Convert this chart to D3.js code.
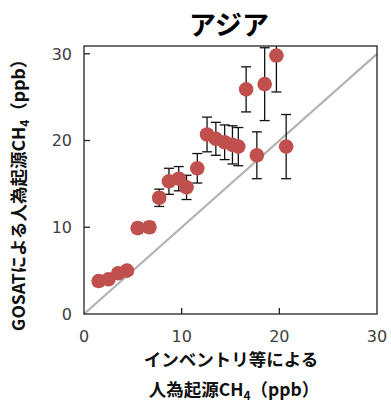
<!DOCTYPE html>
<html>
<head>
<meta charset="utf-8">
<script src="https://cdn.jsdelivr.net/npm/d3@7"></script>
<style>
  body { margin: 0; background: #fff; }
  svg { display: block; }
</style>
</head>
<body>
<div id="chart"></div>
<script>
// inventory (x), GOSAT (y), error (half width) in ppb
var inventory = [1.5, 2.5, 3.5, 4.4, 5.5, 6.7, 7.7, 8.7, 9.7, 10.5, 11.6, 12.6, 13.5, 14.4, 15.2, 15.8, 16.6, 17.7, 18.5, 19.7, 20.7];
var gosat =     [3.8, 4.0, 4.7, 5.0, 9.9, 10.0, 13.4, 15.3, 15.6, 14.6, 16.8, 20.7, 20.2, 19.8, 19.5, 19.3, 25.9, 18.3, 26.5, 29.8, 19.3];
var gosatErr =  [0.3, 0.3, 0.3, 0.3, 0.6, 0.6, 1.0, 1.5, 1.4, 1.4, 1.7, 2.0, 1.9, 2.0, 2.2, 2.2, 2.6, 2.7, 4.2, 4.2, 3.7];
var xTicks = [0, 10, 20, 30];
var yTicks = [0, 10, 20, 30];

var width = 391, height = 410;
var margin = {top: 46, right: 14, bottom: 96, left: 84};
var w = width - margin.left - margin.right;
var h = height - margin.top - margin.bottom;

var svg = d3.select("#chart").append("svg")
  .attr("width", width)
  .attr("height", height);

var x = d3.scaleLinear().domain([0, 30]).range([0, 293]);
var y = d3.scaleLinear().domain([0, 30.9]).range([h, 0]);

var g = svg.append("g").attr("transform", "translate(" + margin.left + "," + margin.top + ")");

g.append("clipPath").attr("id", "plotclip")
  .append("rect").attr("width", w).attr("height", h);

// 1:1 line
g.append("line")
  .attr("x1", x(0)).attr("y1", y(0))
  .attr("x2", x(30)).attr("y2", y(30))
  .attr("stroke", "#b3b3b3")
  .attr("stroke-width", 2.2);

// frame
g.append("rect")
  .attr("width", w).attr("height", h)
  .attr("fill", "none")
  .attr("stroke", "#222")
  .attr("stroke-width", 1.3);

// inward ticks
g.selectAll(".ytick").data(yTicks.slice(1)).enter().append("line")
  .attr("x1", 0).attr("x2", 6)
  .attr("y1", function(d) { return y(d); })
  .attr("y2", function(d) { return y(d); })
  .attr("stroke", "#222").attr("stroke-width", 1.3);

g.selectAll(".xtick").data(xTicks.slice(1, -1)).enter().append("line")
  .attr("y1", h).attr("y2", h - 6)
  .attr("x1", function(d) { return x(d); })
  .attr("x2", function(d) { return x(d); })
  .attr("stroke", "#222").attr("stroke-width", 1.3);

// tick labels
g.selectAll(".ylab").data(yTicks).enter().append("text")
  .attr("x", -12)
  .attr("y", function(d) { return y(d); })
  .attr("dy", "0.36em")
  .attr("text-anchor", "end")
  .attr("font-family", "DejaVu Sans, sans-serif")
  .attr("font-size", "16px")
  .attr("fill", "#404040")
  .text(function(d) { return d; });

g.selectAll(".xlab").data(xTicks).enter().append("text")
  .attr("x", function(d) { return x(d); })
  .attr("y", h + 28)
  .attr("text-anchor", "middle")
  .attr("font-family", "DejaVu Sans, sans-serif")
  .attr("font-size", "16px")
  .attr("fill", "#404040")
  .text(function(d) { return d; });

var pts = inventory.map(function(v, i) {
  return {x: v, y: gosat[i], e: gosatErr[i]};
});

// error bars
var eb = g.append("g").attr("clip-path", "url(#plotclip)")
  .selectAll("g").data(pts).enter().append("g")
  .attr("stroke", "#111").attr("stroke-width", 1.3);
eb.append("line")
  .attr("x1", function(d) { return x(d.x); })
  .attr("x2", function(d) { return x(d.x); })
  .attr("y1", function(d) { return y(d.y - d.e); })
  .attr("y2", function(d) { return y(d.y + d.e); });
eb.append("line")
  .attr("x1", function(d) { return x(d.x) - 5; })
  .attr("x2", function(d) { return x(d.x) + 5; })
  .attr("y1", function(d) { return y(d.y - d.e); })
  .attr("y2", function(d) { return y(d.y - d.e); });
eb.append("line")
  .attr("x1", function(d) { return x(d.x) - 5; })
  .attr("x2", function(d) { return x(d.x) + 5; })
  .attr("y1", function(d) { return y(d.y + d.e); })
  .attr("y2", function(d) { return y(d.y + d.e); });

// markers
g.selectAll("circle").data(pts).enter().append("circle")
  .attr("cx", function(d) { return x(d.x); })
  .attr("cy", function(d) { return y(d.y); })
  .attr("r", 7.3)
  .attr("fill", "#c0504d");

var jp = "'Noto Sans CJK JP', 'Noto Sans', sans-serif";

// title
svg.append("text")
  .attr("x", 229).attr("y", 35)
  .attr("text-anchor", "middle")
  .attr("font-family", jp)
  .attr("font-weight", "bold")
  .attr("font-size", "27px")
  .attr("fill", "#000")
  .text("アジア");

// y axis label
var yl = svg.append("text")
  .attr("transform", "translate(25,191) rotate(-90)")
  .attr("text-anchor", "middle")
  .attr("font-family", jp)
  .attr("font-weight", "bold")
  .attr("font-size", "17.5px")
  .attr("fill", "#111");
yl.append("tspan").text("GOSATによる人為起源CH");
yl.append("tspan").attr("font-size", "12px").attr("dy", 4).text("4");
yl.append("tspan").attr("dy", -4).text("（ppb）");

// x axis label
svg.append("text")
  .attr("x", 231).attr("y", 366)
  .attr("text-anchor", "middle")
  .attr("font-family", jp)
  .attr("font-weight", "bold")
  .attr("font-size", "17.5px")
  .attr("fill", "#111")
  .text("インベントリ等による");

var xl = svg.append("text")
  .attr("x", 234).attr("y", 396)
  .attr("text-anchor", "middle")
  .attr("font-family", jp)
  .attr("font-weight", "bold")
  .attr("font-size", "17.5px")
  .attr("fill", "#111");
xl.append("tspan").text("人為起源CH");
xl.append("tspan").attr("font-size", "12px").attr("dy", 4).text("4");
xl.append("tspan").attr("dy", -4).text("（ppb）");
</script>
</body>
</html>
